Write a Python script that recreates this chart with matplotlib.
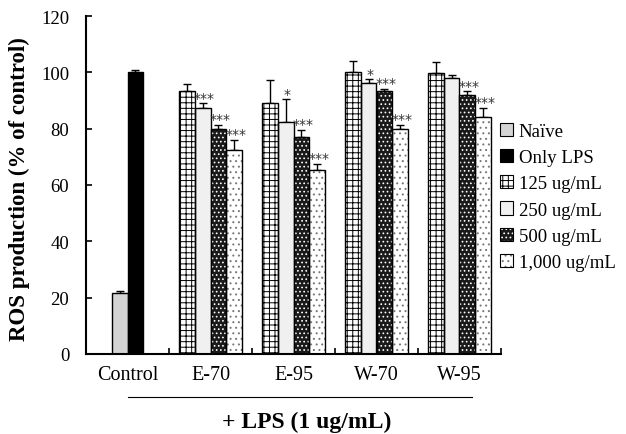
import matplotlib
matplotlib.use("Agg")
import matplotlib.pyplot as plt
from matplotlib.patches import Patch
from matplotlib.lines import Line2D
from matplotlib.legend_handler import HandlerTuple
import numpy as np

plt.rcParams['font.family'] = ['Liberation Serif', 'DejaVu Serif']
plt.rcParams['hatch.linewidth'] = 0.7

# data
categories = ['Control', 'E-70', 'E-95', 'W-70', 'W-95']
control_labels = ['Naïve', 'Only LPS']
control_vals = [21.5, 100.0]
control_err = [0.7, 0.7]

dose_labels = ['125 ug/mL', '250 ug/mL', '500 ug/mL', '1,000 ug/mL']
e70 = [93.2, 87.4, 79.8, 72.6]
e70_err = [2.6, 1.6, 1.5, 3.5]
e95 = [89.2, 82.4, 77.2, 65.2]
e95_err = [8.0, 8.0, 2.5, 2.3]
w70 = [100.2, 96.3, 93.3, 79.8]
w70_err = [4.0, 1.2, 0.8, 1.6]
w95 = [99.8, 98.0, 92.1, 84.2]
w95_err = [3.8, 1.1, 1.2, 3.2]

e70_sig = ['', '***', '***', '***']
e95_sig = ['', '*', '***', '***']
w70_sig = ['', '*', '***', '***']
w95_sig = ['', '', '***', '***']

samples = [e70, e95, w70, w95]
sample_err = [e70_err, e95_err, w70_err, w95_err]
sample_sig = [e70_sig, e95_sig, w70_sig, w95_sig]

# bar styles: (facecolor, hatch colour, hatch)
control_styles = [('#d4d4d4', 'black', None), ('black', 'black', None)]
dose_styles = [('white', 'black', '+++'),
               ('#f0f0f0', 'black', None),
               ('#1a1a1a', 'white', '....'),
               ('white', '#777777', '...')]

fig = plt.figure(figsize=(6.26, 4.35), dpi=100)
ax = fig.add_axes([86 / 626, 80 / 435, 415 / 626, 338 / 435])

w = 0.19
x = np.arange(len(categories))


def draw_bar(xpos, val, err, style):
    fc, hc, hatch = style
    if hatch:
        ax.bar(xpos, val, w, color=fc, edgecolor=hc, hatch=hatch, linewidth=0, zorder=2)
        ax.bar(xpos, val, w, facecolor='none', edgecolor='black', linewidth=1.0, zorder=3)
    else:
        ax.bar(xpos, val, w, color=fc, edgecolor='black', linewidth=1.0, zorder=2)
    ax.errorbar(xpos, val, yerr=[[0], [err]], fmt='none', ecolor='black',
                elinewidth=1.0, capsize=3, capthick=1.0, zorder=1)


# control group
for i in range(2):
    draw_bar(x[0] + (i - 0.5) * w, control_vals[i], control_err[i], control_styles[i])

# extract groups
for g in range(4):
    for j in range(4):
        xpos = x[g + 1] + (j - 1.5) * w
        val = samples[g][j]
        err = sample_err[g][j]
        draw_bar(xpos, val, err, dose_styles[j])
        if sample_sig[g][j]:
            ax.text(xpos + 0.02, val + err - 0.5, sample_sig[g][j], ha='center', va='bottom',
                    fontsize=10, color='#333333', family='DejaVu Sans')

ax.set_xlim(-0.5, 4.5)
ax.set_ylim(0, 120)
ax.set_yticks(range(0, 121, 20))
ax.set_xticks(x + 0.5)
ax.set_xticklabels([])
ax.set_xticks(x, minor=True)
ax.set_xticklabels(categories, minor=True, fontsize=14.5)
ax.tick_params(axis='x', which='minor', length=0, pad=8)
ax.tick_params(axis='x', which='major', direction='in', length=4, width=1.2)
ax.tick_params(axis='y', direction='in', length=4, width=1.2, labelsize=13.5, pad=12)
ax.spines['top'].set_visible(False)
ax.spines['right'].set_visible(False)
for s in ('left', 'bottom'):
    ax.spines[s].set_linewidth(1.5)

ax.set_ylabel('ROS production (% of control)', fontsize=16.5, fontweight='bold')
ax.yaxis.set_label_coords(-56 / 415, 0.49)

# legend
handles = []
for fc, hc, hatch in control_styles + dose_styles:
    if hatch:
        handles.append((Patch(facecolor=fc, edgecolor=hc, hatch=hatch, linewidth=0),
                        Patch(facecolor='none', edgecolor='black', linewidth=0.8)))
    else:
        handles.append(Patch(facecolor=fc, edgecolor='black', linewidth=0.8))
fig.legend(handles, control_labels + dose_labels, loc='upper left',
           bbox_to_anchor=(500 / 626, 1 - 124 / 435), frameon=False, fontsize=13.5,
           handler_map={tuple: HandlerTuple(ndivide=1, pad=0)},
           handlelength=0.7, handleheight=0.7, handletextpad=0.3, labelspacing=0.48,
           borderaxespad=0, borderpad=0)

# + LPS bracket line
fig.add_artist(Line2D([128 / 626, 472 / 626], [1 - 398 / 435, 1 - 398 / 435],
                      color='black', linewidth=0.8))
fig.text(307 / 626, 1 - 422 / 435, '+ LPS (1 ug/mL)', ha='center', va='center',
         fontsize=17, fontweight='bold')

fig.savefig('out.png', dpi=100)
